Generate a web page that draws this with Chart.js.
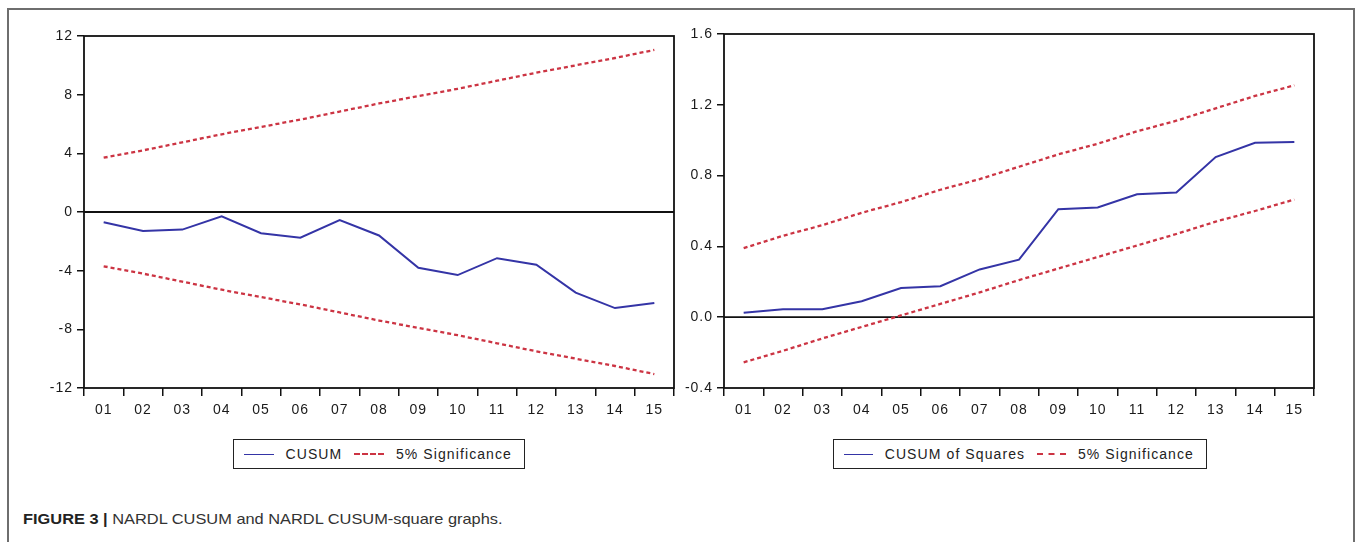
<!DOCTYPE html>
<html>
<head>
<meta charset="utf-8">
<script src="https://cdn.jsdelivr.net/npm/chart.js@4.4.0/dist/chart.umd.min.js"></script>
<style>
  body { margin: 0; background: #fff; width: 1357px; height: 542px; overflow: hidden; position: relative; font-family: "Liberation Sans", Arial, sans-serif; }
  .frame { position: absolute; left: 7px; top: 8px; width: 1348px; height: 560px; border: 2px solid #6e6e6e; box-sizing: border-box; }
  canvas { position: absolute; }
  .legend { position: absolute; top: 439px; height: 30px; border: 1.5px solid #222; box-sizing: border-box; display: flex; align-items: center; padding-left: 10px; font-size: 14px; letter-spacing: 1.1px; color: #222; }
  .legend .swatch { width: 30px; height: 0; margin-right: 12px; }
  .legend .item { margin-right: 12px; white-space: nowrap; }
  .caption { position: absolute; left: 23px; top: 511px; font-size: 14.5px; color: #333; white-space: nowrap; transform: scaleX(1.13); transform-origin: left center; }
  .caption b { color: #222; }
</style>
</head>
<body>
<div class="frame"></div>
<canvas id="cusumChart" width="670" height="410" style="left:10px;top:20px"></canvas>
<canvas id="squaresChart" width="677" height="410" style="left:680px;top:20px"></canvas>
<div class="legend" id="cusumLegend" style="left:233px;width:292px"></div>
<div class="legend" id="squaresLegend" style="left:833px;width:374px"></div>
<div class="caption"><b>FIGURE 3 |</b> NARDL CUSUM and NARDL CUSUM-square graphs.</div>
<script>
const years = ["01", "02", "03", "04", "05", "06", "07", "08", "09", "10", "11", "12", "13", "14", "15"];

// CUSUM and its 5% bounds
const cusum = [-0.7, -1.3, -1.2, -0.3, -1.45, -1.75, -0.55, -1.6, -3.8, -4.3, -3.15, -3.6, -5.5, -6.55, -6.2];
const cusumUpper = [3.7, 4.2, 4.75, 5.3, 5.8, 6.3, 6.85, 7.4, 7.9, 8.4, 8.95, 9.5, 10.0, 10.5, 11.05];
const cusumLower = [-3.7, -4.2, -4.75, -5.3, -5.8, -6.3, -6.85, -7.4, -7.9, -8.4, -8.95, -9.5, -10.0, -10.5, -11.05];

// CUSUM of squares and its 5% bounds
const cusumSq = [0.025, 0.045, 0.045, 0.09, 0.165, 0.175, 0.27, 0.325, 0.61, 0.62, 0.695, 0.705, 0.905, 0.985, 0.99];
const sqUpper = [0.39, 0.46, 0.52, 0.59, 0.65, 0.72, 0.78, 0.85, 0.92, 0.98, 1.05, 1.11, 1.18, 1.25, 1.31];
const sqLower = [-0.255, -0.19, -0.12, -0.055, 0.01, 0.075, 0.14, 0.21, 0.275, 0.34, 0.405, 0.47, 0.54, 0.6, 0.665];

const cusumAxis = { min: -12, max: 12, step: 4 };
const squaresAxis = { min: -0.4, max: 1.6, step: 0.4 };

const BLUE = "#3434a6";
const RED = "#cc3443";
const FONT = { family: "'Liberation Sans', Arial, sans-serif", size: 14 };

// box around the plot plus the zero line
const framePlugin = {
  id: "frame",
  beforeDraw(chart) {
    chart.ctx.letterSpacing = "1px";
  },
  beforeDatasetsDraw(chart) {
    const { ctx, chartArea: a, scales } = chart;
    const y0 = scales.y.getPixelForValue(0);
    ctx.save();
    ctx.strokeStyle = "#111";
    ctx.lineWidth = 1.8;
    ctx.strokeRect(a.left, a.top, a.right - a.left, a.bottom - a.top);
    ctx.beginPath();
    ctx.moveTo(a.left, y0);
    ctx.lineTo(a.right, y0);
    ctx.stroke();
    ctx.restore();
  },
  afterDraw(chart) {
    chart.ctx.letterSpacing = "0px";
  },
};

function makeChart(id, series, bounds, axis, yWidth, padRight, padTop, decimals) {
  const datasets = [
    { label: series.label, data: series.data, borderColor: BLUE, borderWidth: 2 },
    { label: "5% Significance", data: bounds[0], borderColor: RED, borderWidth: 2.3, borderDash: [4, 3] },
    { label: "5% Significance", data: bounds[1], borderColor: RED, borderWidth: 2.3, borderDash: [4, 3] },
  ];
  return new Chart(document.getElementById(id), {
    type: "line",
    data: {
      labels: years,
      datasets: datasets.map((d) => ({ ...d, pointRadius: 0, tension: 0, fill: false })),
    },
    options: {
      responsive: false,
      animation: false,
      layout: { padding: { top: padTop, right: padRight, left: 0, bottom: 0 } },
      plugins: { legend: { display: false }, tooltip: { enabled: false } },
      scales: {
        x: {
          offset: true,
          border: { display: false },
          grid: { offset: true, drawOnChartArea: false, tickLength: 8, color: "#111", lineWidth: 1.5 },
          ticks: { color: "#1a1a1a", font: FONT, padding: 6, maxRotation: 0, autoSkip: false },
          afterFit: (s) => { s.height = 42; },
        },
        y: {
          min: axis.min,
          max: axis.max,
          border: { display: false },
          grid: { drawOnChartArea: false, tickLength: 7, color: "#111", lineWidth: 1.5 },
          ticks: {
            stepSize: axis.step,
            color: "#1a1a1a",
            font: FONT,
            padding: 4,
            callback: (v) => Number(v).toFixed(decimals),
          },
          afterFit: (s) => { s.width = yWidth; },
        },
      },
    },
    plugins: [framePlugin],
  });
}

makeChart("cusumChart", { label: "CUSUM", data: cusum }, [cusumUpper, cusumLower], cusumAxis, 74, 6, 16, 0);
makeChart("squaresChart", { label: "CUSUM of Squares", data: cusumSq }, [sqUpper, sqLower], squaresAxis, 44, 43, 14, 1);

function buildLegend(id, mainLabel) {
  const el = document.getElementById(id);
  const entries = [
    { label: mainLabel, style: "border-top:1.8px solid " + BLUE },
    { label: "5% Significance", style: "border-top:2px dashed " + RED },
  ];
  entries.forEach((e) => {
    const sw = document.createElement("span");
    sw.className = "swatch";
    sw.style.cssText = e.style;
    const tx = document.createElement("span");
    tx.className = "item";
    tx.textContent = e.label;
    el.appendChild(sw);
    el.appendChild(tx);
  });
}

buildLegend("cusumLegend", "CUSUM");
buildLegend("squaresLegend", "CUSUM of Squares");
</script>
</body>
</html>
